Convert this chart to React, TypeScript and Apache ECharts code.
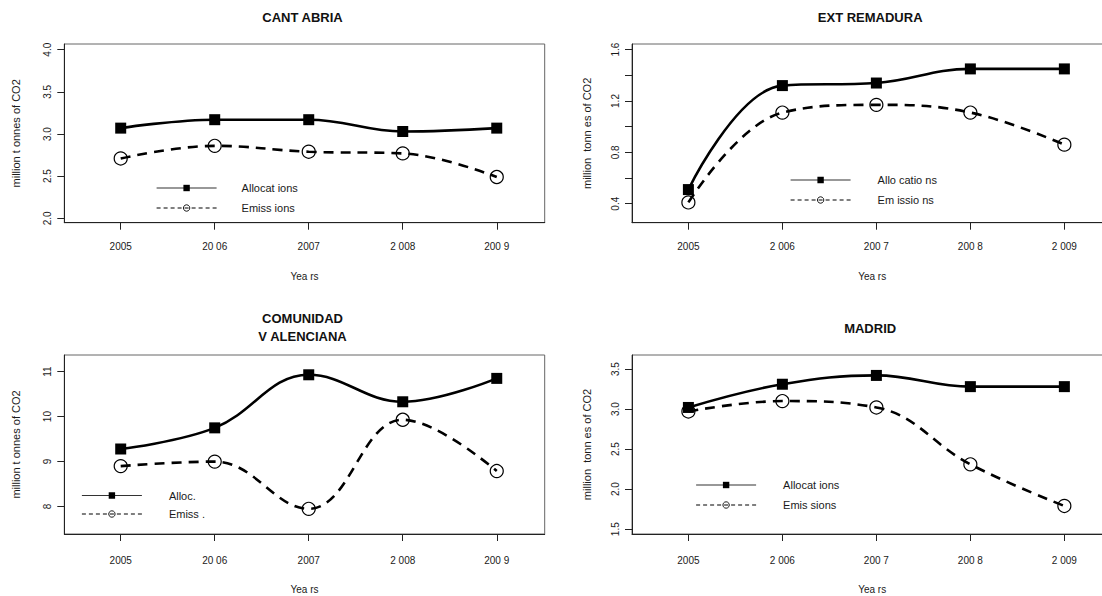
import React, { useEffect, useRef } from "react";
import * as echarts from "echarts";

// ---- data ----
const years = [2005, 2006, 2007, 2008, 2009];
const xLabelsLeft = ["2005", "20 06", "2007", "2 008", "200 9"];
const xLabelsRight = ["2005", "2 006", "200 7", "200 8", "2 009"];

const cantabriaAlloc = [3.07, 3.17, 3.17, 3.03, 3.07];
const cantabriaEmis = [2.71, 2.86, 2.79, 2.77, 2.49];
const extremaduraAlloc = [0.51, 1.32, 1.34, 1.45, 1.45];
const extremaduraEmis = [0.41, 1.11, 1.17, 1.11, 0.86];
const valencianaAlloc = [9.28, 9.75, 10.93, 10.33, 10.85];
const valencianaEmis = [8.9, 9.0, 7.95, 9.93, 8.79];
const madridAlloc = [3.02, 3.31, 3.42, 3.28, 3.28];
const madridEmis = [2.97, 3.1, 3.02, 2.31, 1.79];

const cantabriaTicks = [2.0, 2.5, 3.0, 3.5, 4.0];
const extremaduraTicks = [0.4, 0.6, 0.8, 1.0, 1.2, 1.4, 1.6];
const extremaduraLabels = [0.4, 0.8, 1.2, 1.6];
const valencianaTicks = [8, 9, 10, 11];
const madridTicks = [1.5, 2.0, 2.5, 3.0, 3.5];

const titles = ["CANT ABRIA", "EXT REMADURA", "COMUNIDAD\nV ALENCIANA", "MADRID"];
const allocNames = ["Allocat ions", "Allo catio ns", "Alloc.", "Allocat ions"];
const emisNames = ["Emiss ions", "Em issio ns", "Emiss .", "Emis sions"];
const yNames = [
  "million t onnes of CO2",
  "million  tonn es of CO2",
  "million t onnes of CO2",
  "million  tonn es of CO2",
];
const xName = "Yea rs";

// ---- layout ----
const FONT = '"Liberation Sans", Arial, Helvetica, sans-serif';
const TXT = "#1a1a1a";

const panels = [
  {
    alloc: cantabriaAlloc, emis: cantabriaEmis, xLabels: xLabelsLeft,
    ticks: cantabriaTicks, labels: cantabriaTicks, dec: 1,
    left: 64.3, top: 44, width: 480.4, height: 178.7, yMin: 1.948, yMax: 4.068,
    titleY: 17.3, lgLeft: 156, lgTop: 182, lgGap: 8, lgPad: 20,
    xMargin: 19, xNameGap: 49, yNameGap: 43,
  },
  {
    alloc: extremaduraAlloc, emis: extremaduraEmis, xLabels: xLabelsRight,
    ticks: extremaduraTicks, labels: extremaduraLabels, dec: 1,
    left: 632, top: 44, width: 480.3, height: 178.7, yMin: 0.252, yMax: 1.644,
    titleY: 17.3, lgLeft: 790, lgTop: 174, lgGap: 8, lgPad: 22,
    xMargin: 19, xNameGap: 49, yNameGap: 40,
  },
  {
    alloc: valencianaAlloc, emis: valencianaEmis, xLabels: xLabelsLeft,
    ticks: valencianaTicks, labels: valencianaTicks, dec: 0,
    left: 64.3, top: 355, width: 480.4, height: 179, yMin: 7.39, yMax: 11.37,
    titleY: 327.5, lgLeft: 81.3, lgTop: 489.5, lgGap: 6.5, lgPad: 22,
    xMargin: 21, xNameGap: 50, yNameGap: 43,
  },
  {
    alloc: madridAlloc, emis: madridEmis, xLabels: xLabelsRight,
    ticks: madridTicks, labels: madridTicks, dec: 1,
    left: 632, top: 355, width: 480.3, height: 179, yMin: 1.44, yMax: 3.675,
    titleY: 328.7, lgLeft: 695.5, lgTop: 479, lgGap: 8, lgPad: 22,
    xMargin: 21, xNameGap: 50, yNameGap: 40,
  },
];

function buildOption() {
  const grid: any[] = [];
  const xAxis: any[] = [];
  const yAxis: any[] = [];
  const series: any[] = [];
  const legend: any[] = [];
  const graphic: any[] = [];
  const nameMap: Record<string, string> = {};

  panels.forEach((p, i) => {
    grid.push({
      left: p.left, top: p.top, width: p.width, height: p.height,
      show: true, borderColor: "#666", borderWidth: 1, backgroundColor: "transparent",
      containLabel: false, outerBoundsMode: "none",
    });
    xAxis.push({
      type: "value", gridIndex: i, min: 2004.4, max: 2009.51,
      name: xName, nameLocation: "middle", nameGap: p.xNameGap,
      nameTextStyle: { fontFamily: FONT, fontSize: 10, color: TXT },
      axisLine: { show: true, onZero: false, lineStyle: { color: "#222", width: 1 } },
      axisTick: { show: true, length: 7, customValues: years, lineStyle: { color: "#222" } },
      axisLabel: {
        show: true, customValues: years, margin: p.xMargin,
        fontFamily: FONT, fontSize: 10, color: TXT,
        formatter: (v: number) => {
          const k = years.indexOf(Math.round(v));
          return k >= 0 ? p.xLabels[k] : "";
        },
      },
      splitLine: { show: false },
    });
    yAxis.push({
      type: "value", gridIndex: i, min: p.yMin, max: p.yMax,
      name: yNames[i], nameLocation: "middle", nameGap: p.yNameGap,
      nameTextStyle: { fontFamily: FONT, fontSize: 11, color: TXT },
      axisLine: { show: true, onZero: false, lineStyle: { color: "#222", width: 1 } },
      axisTick: { show: true, length: 7, customValues: p.ticks, lineStyle: { color: "#222" } },
      axisLabel: {
        show: true, customValues: p.labels, rotate: 90, margin: 12,
        fontFamily: FONT, fontSize: 10, color: TXT,
        formatter: (v: number) => v.toFixed(p.dec),
      },
      splitLine: { show: false },
    });
    const aId = `p${i}a`;
    const eId = `p${i}e`;
    nameMap[aId] = allocNames[i];
    nameMap[eId] = emisNames[i];
    series.push({
      type: "line", name: aId, xAxisIndex: i, yAxisIndex: i,
      data: years.map((y, j) => [y, p.alloc[j]]),
      smooth: 0.4, symbol: "rect", symbolSize: 11,
      itemStyle: { color: "#000" },
      lineStyle: { color: "#000", width: 2.6, type: "solid" },
      emphasis: { disabled: true },
    });
    series.push({
      type: "line", name: eId, xAxisIndex: i, yAxisIndex: i,
      data: years.map((y, j) => [y, p.emis[j]]),
      smooth: 0.4, symbol: "circle", symbolSize: 13,
      itemStyle: { color: "rgba(0,0,0,0)", borderColor: "#000", borderWidth: 1.2 },
      lineStyle: { color: "#000", width: 2.6, type: [10, 7] },
      emphasis: { disabled: true },
    });
    legend.push({
      orient: "vertical", left: p.lgLeft, top: p.lgTop, padding: 0,
      itemGap: p.lgGap, itemWidth: 60, itemHeight: 8, selectedMode: false,
      formatter: (n: string) => nameMap[n] || n,
      textStyle: { fontFamily: FONT, fontSize: 11, color: TXT, lineHeight: 12, padding: [0, 0, 0, p.lgPad] },
      data: [
        { name: aId, lineStyle: { width: 1.2, type: "solid", color: "#333" } },
        { name: eId, lineStyle: { width: 1.2, type: [4, 3], color: "#000" }, itemStyle: { borderWidth: 0.9 } },
      ],
    });
    graphic.push({
      type: "text",
      x: p.left + p.width / 2 - 2,
      y: p.titleY,
      style: {
        text: titles[i],
        font: `bold 13px ${FONT}`,
        fill: "#111",
        align: "center",
        verticalAlign: "middle",
        textAlign: "center",
        textVerticalAlign: "middle",
        lineHeight: 17.6,
      },
    });
  });

  return {
    animation: false,
    backgroundColor: "#fff",
    grid, xAxis, yAxis, series, legend, graphic,
  };
}

export default function App() {
  const ref = useRef<HTMLDivElement>(null);
  useEffect(() => {
    if (!ref.current) return;
    const chart = echarts.init(ref.current, undefined, { renderer: "svg" });
    chart.setOption(buildOption() as any);
    return () => chart.dispose();
  }, []);
  return (
    <div
      ref={ref}
      style={{ position: "fixed", left: 0, top: 0, width: 1102, height: 596, background: "#fff" }}
    />
  );
}
